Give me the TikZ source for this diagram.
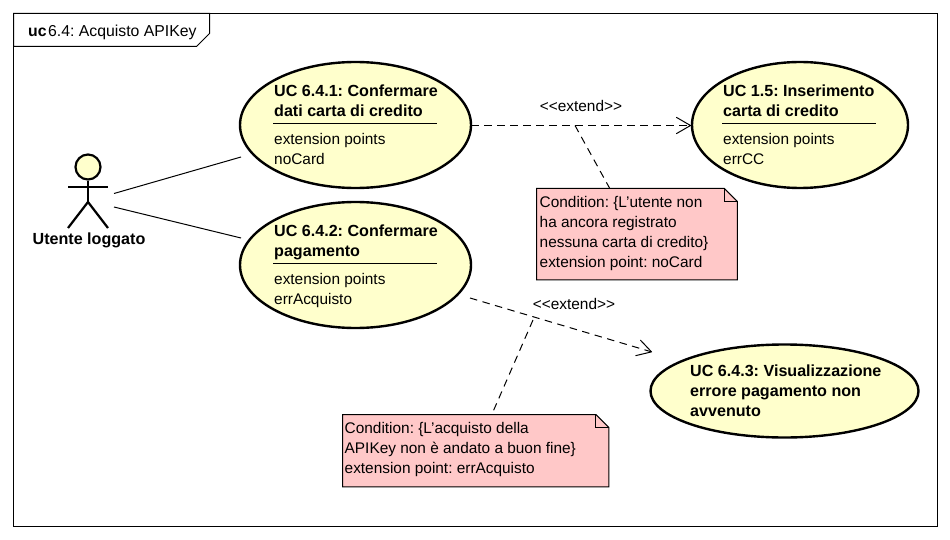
\documentclass[tikz,border=0pt]{standalone}
\usepackage{fontspec}
\setmainfont{Liberation Sans}
\usetikzlibrary{shapes.geometric,arrows.meta}
\definecolor{ucfill}{HTML}{FFFFCC}
\definecolor{notefill}{HTML}{FFC8C8}
\tikzset{
  usecase/.style={ellipse,draw=black,line width=2.4pt,fill=ucfill,inner sep=0pt},
  thin line/.style={draw=black,line width=1pt},
  assoc/.style={draw=black,line width=1pt},
  extendline/.style={draw=black,line width=1pt,dash pattern=on 7.5pt off 5.5pt,-{Straight Barb[length=14pt,width=16pt,line width=1pt,angle'=60,round]}},
  notelink/.style={draw=black,line width=1pt,dash pattern=on 7.5pt off 5.5pt},
  ttl/.style={font=\fontsize{16.1}{20}\selectfont\bfseries\frenchspacing,anchor=north west,inner sep=0pt,align=left},
  txt/.style={font=\fontsize{15.4}{20}\selectfont\frenchspacing,anchor=north west,inner sep=0pt,align=left},
  notebox/.style={inner sep=0pt,anchor=north west},
  divider/.style={draw=black,line width=1pt},
  actorline/.style={draw=black,line width=2.2pt}
}
\begin{document}
\begin{tikzpicture}[x=1pt,y=-1pt]
\useasboundingbox (0,0) rectangle (950,540);
\fill[white] (0,0) rectangle (950,540);
% frame
\draw[thin line] (13.5,13.5) rectangle (937.5,526.5);
\draw[thin line,fill=white] (13.5,13.5) -- (209.5,13.5) -- (209.5,33.5) -- (196.5,46.5) -- (13.5,46.5) -- cycle;
\node[txt,anchor=base west,font=\fontsize{15.8}{20}\selectfont\frenchspacing] (frametitle) at (28,37) {\textbf{uc}\hspace{1.5pt}6.4: Acquisto APIKey};
% use cases
\node[usecase,minimum width=231pt,minimum height=126pt] (uca) at (355.5,125) {};
\node[usecase,minimum width=231pt,minimum height=126pt] (ucb) at (355.5,265) {};
\node[usecase,minimum width=216pt,minimum height=126pt] (ucc) at (800,125) {};
\node[usecase,minimum width=268pt,minimum height=93pt] (ucd) at (784.5,391) {};
\node[ttl] (ta) at (274,85) {UC 6.4.1: Confermare\\dati carta di credito};
\draw[divider] (273,123.5) -- (437,123.5);
\node[txt] (ea) at (274,133) {extension points\\noCard};
\node[ttl] (tb) at (274,225) {UC 6.4.2: Confermare\\pagamento};
\draw[divider] (273,263.5) -- (437,263.5);
\node[txt] (eb) at (274,273) {extension points\\errAcquisto};
\node[ttl] (tc) at (723,85) {UC 1.5: Inserimento\\carta di credito};
\draw[divider] (722,123.5) -- (876,123.5);
\node[txt] (ec) at (723,133) {extension points\\errCC};
\node[ttl] (td) at (690,365) {UC 6.4.3: Visualizzazione\\errore pagamento non\\avvenuto};
% actor
\node[circle,draw=black,line width=2.2pt,fill=ucfill,minimum size=25pt,inner sep=0pt] (head) at (88,167) {};
\coordinate (neck) at (88,187);
\coordinate (hip) at (88,202);
\coordinate (armL) at (68,187);
\coordinate (armR) at (108,187);
\coordinate (legL) at (68,228);
\coordinate (legR) at (108,228);
\draw[actorline] (head.south) -- (hip);
\draw[actorline] (armL) -- (armR);
\draw[actorline] (legL) -- (hip) -- (legR);
\node[ttl,anchor=north] (actor) at (89,233) {Utente loggato};
% associations
\coordinate (actA) at (114,193.5);
\coordinate (actB) at (114,207);
\coordinate (endA) at (241,157);
\coordinate (endB) at (241,238);
\draw[assoc] (actA) -- (endA);
\draw[assoc] (actB) -- (endB);
% notes
\node[notebox,minimum width=200.5pt,minimum height=91pt] (noteA) at (536.5,188.5) {};
\node[notebox,minimum width=266pt,minimum height=72pt] (noteB) at (342.5,414.5) {};
\foreach \n in {noteA,noteB}{
  \draw[thin line,fill=notefill] (\n.north west) -- ([xshift=-13pt]\n.north east) -- ([yshift=-13pt]\n.north east) -- (\n.south east) -- (\n.south west) -- cycle;
  \draw[thin line] ([xshift=-13pt]\n.north east) -- ([xshift=-13pt,yshift=-13pt]\n.north east) -- ([yshift=-13pt]\n.north east);
}
\node[txt] (noteAt) at (539.5,196) {Condition: \{L'utente non\\ha ancora registrato\\nessuna carta di credito\}\\extension point: noCard};
\node[txt] (noteBt) at (344.5,422) {Condition: \{L'acquisto della\\APIKey non è andato a buon fine\}\\extension point: errAcquisto};
% extends
\coordinate (srcA) at (471,125.5);
\coordinate (dstA) at (691,125.5);
\coordinate (midA) at (575,125.5);
\coordinate (srcB) at (470,298);
\coordinate (dstB) at (652,352);
\coordinate (midB) at (533,320);
\draw[extendline] (srcA) -- (dstA);
\draw[extendline] (srcB) -- (dstB);
\draw[notelink] (midA) -- (609.5,188);
\draw[notelink] (midB) -- (492,414);
\node[txt,anchor=center] (exA) at (581,106) {<{}<extend>{}>};
\node[txt,anchor=center] (exB) at (574,304) {<{}<extend>{}>};
\end{tikzpicture}
\end{document}
